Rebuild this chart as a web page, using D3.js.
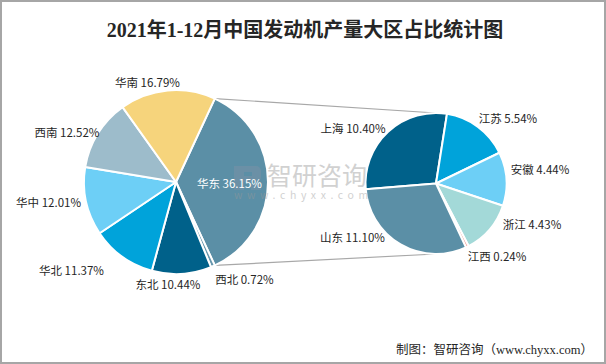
<!DOCTYPE html>
<html><head><meta charset="utf-8">
<script src="https://cdn.jsdelivr.net/npm/d3@7"></script>
<style>
html,body{margin:0;padding:0;background:#fff;}
svg{display:block;}
text{font-family:"Microsoft YaHei","Noto Sans CJK SC","Noto Sans",sans-serif;}
</style></head>
<body>
<script>
// ---- data ----
const titleText = "2021年1-12月中国发动机产量大区占比统计图";
const sourceText = "制图：智研咨询（www.chyxx.com）";
const mainCats = ["华东","西北","东北","华北","华中","西南","华南"];
const mainVals = [36.15, 0.72, 10.44, 11.37, 12.01, 12.52, 16.79];
const subCats = ["上海","江苏","安徽","浙江","江西","山东"];
const subVals = [10.40, 5.54, 4.44, 4.43, 0.24, 11.10];

// ---- styles / layout ----
const mainColors = ["#5b8fa6","#6797ad","#00618a","#00a3da","#6dcff6","#9dbccb","#f6d47c"];
const subColors = ["#00618a","#00a3da","#6dcff6","#a3d9d8","#f3a39c","#5b8fa6"];
// label placement: [angle deg clockwise from 12 o'clock, distance from pie centre]
const mainLabelPolar = [[91.1,53.5],[144.8,118.7],[184.5,102.3],[229.9,136.6],[261.1,129],[294.6,119.9],[344.1,104]];
const subLabelPolar = [[303.8,99.8],[47.7,97.3],[82.1,105],[112.9,104.2],[139.9,94.7],[237.4,99.2]];

const W = 606, H = 364;
const c1 = {x:176, y:182}, r1 = 92;
const c2 = {x:436, y:183.5}, r2 = 70.5;
const rad = d => d * Math.PI / 180;

const svg = d3.select("body").append("svg").attr("width", W).attr("height", H);
svg.append("rect").attr("width", W).attr("height", H).attr("fill", "#fff");
svg.append("rect").attr("x",1).attr("y",1).attr("width",W-2).attr("height",H-2)
  .attr("fill","none").attr("stroke","#a6a6a6").attr("stroke-width",2);

svg.append("text").attr("x", 305).attr("y", 37).attr("text-anchor","middle")
  .attr("font-size", 20).attr("font-weight","bold").attr("fill","#262626")
  .style("font-family", '"Liberation Serif","Noto Sans CJK SC",serif')
  .text(titleText);

const mainData = mainCats.map((c,i)=>({c, v:mainVals[i], col:mainColors[i], lp:mainLabelPolar[i]}));
const subData = subCats.map((c,i)=>({c, v:subVals[i], col:subColors[i], lp:subLabelPolar[i]}));

const mainStart = 90 - mainVals[0] * 3.6 / 2;
const pie1 = d3.pie().sort(null).value(d=>d.v).startAngle(rad(mainStart)).endAngle(rad(mainStart+360));
const subStart = -94.6;
const pie2 = d3.pie().sort(null).value(d=>d.v).startAngle(rad(subStart)).endAngle(rad(subStart+360));
const arcs1 = pie1(mainData), arcs2 = pie2(subData);

// connector lines from the 华东 slice to the secondary pie
const e = arcs1[0];
const pt = (c, r, a) => [c.x + r*Math.sin(a), c.y - r*Math.cos(a)];
const conn = svg.append("g").attr("stroke","#a8a8a8").attr("stroke-width",1.2);
const p0 = pt(c1, r1, e.startAngle), p1 = pt(c1, r1, e.endAngle);
conn.append("line").attr("x1",p0[0]).attr("y1",p0[1]).attr("x2",c2.x).attr("y2",c2.y-r2);
conn.append("line").attr("x1",p1[0]).attr("y1",p1[1]).attr("x2",c2.x).attr("y2",c2.y+r2);

const arc1 = d3.arc().innerRadius(0).outerRadius(r1);
const arc2 = d3.arc().innerRadius(0).outerRadius(r2);

svg.append("g").attr("transform",`translate(${c1.x},${c1.y})`)
  .selectAll("path").data(arcs1).join("path")
  .attr("d", arc1).attr("fill", d=>d.data.col).attr("stroke","#fff").attr("stroke-width",2).attr("stroke-linejoin","round");
svg.append("g").attr("transform",`translate(${c2.x},${c2.y})`)
  .selectAll("path").data(arcs2).join("path")
  .attr("d", arc2).attr("fill", d=>d.data.col).attr("stroke","#fff").attr("stroke-width",2).attr("stroke-linejoin","round");

// watermark
const wm = svg.append("g").attr("opacity",0.45);
wm.append("path").attr("d","M234,166 h22 a5,5 0 0 1 5,5 v6 a5,5 0 0 1 -5,5 h-12 v8 h-10 z M244,172 v4 h8 v-4 z M251,184 h10 v6 h-10 z")
  .attr("fill","#7f93a6").attr("fill-rule","evenodd");
wm.append("text").attr("x",267).attr("y",185).attr("font-size",25).attr("fill","#9a9a9a").text("智研咨询");
wm.append("text").attr("x",234).attr("y",199).attr("font-size",10.5).attr("fill","#9a9a9a")
  .attr("letter-spacing", 4.6).text("www.chyxx.com");

// labels
function labels(arcs, c, white) {
  svg.append("g").selectAll("text").data(arcs).join("text")
    .attr("x", d => pt(c, d.data.lp[1], rad(d.data.lp[0]))[0])
    .attr("y", d => pt(c, d.data.lp[1], rad(d.data.lp[0]))[1])
    .attr("text-anchor","middle").attr("dominant-baseline","central")
    .attr("font-size", 11.5)
    .attr("fill", (d,i) => white(i) ? "#fff" : "#262626")
    .text(d => `${d.data.c} ${d.data.v.toFixed(2)}%`);
}
labels(arcs1, c1, i => i === 0);
labels(arcs2, c2, i => false);

svg.append("text").attr("x", 593).attr("y", 354).attr("text-anchor","end")
  .attr("font-size", 12.5).attr("fill","#262626")
  .style("font-family", '"Liberation Serif","Noto Sans CJK SC",serif')
  .text(sourceText);
</script>
</body></html>
